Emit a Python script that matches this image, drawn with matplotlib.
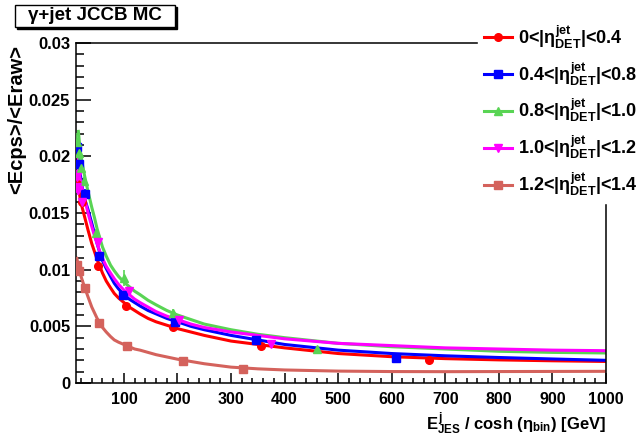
import matplotlib
matplotlib.use("Agg")
import matplotlib.pyplot as plt
from matplotlib.patches import Rectangle

plt.rcParams['font.family'] = ['Liberation Sans', 'DejaVu Sans']
plt.rcParams['font.weight'] = 'bold'
plt.rcParams['mathtext.fontset'] = 'custom'
plt.rcParams['mathtext.rm'] = 'Liberation Sans:bold'
plt.rcParams['mathtext.it'] = 'Liberation Sans:bold'
plt.rcParams['mathtext.bf'] = 'Liberation Sans:bold'

# --- data ---
labels = ['0<|$\\eta^{jet}_{DET}$|<0.4', '0.4<|$\\eta^{jet}_{DET}$|<0.8',
          '0.8<|$\\eta^{jet}_{DET}$|<1.0', '1.0<|$\\eta^{jet}_{DET}$|<1.2',
          '1.2<|$\\eta^{jet}_{DET}$|<1.4']

# points
red_x = [13, 21, 51, 104, 191, 356, 670]
red_y = [0.0176, 0.0160, 0.0103, 0.0068, 0.0049, 0.0033, 0.0020]
red_e = [0.0006, 0.0004, 0.0003, 0.0002, 0.0001, 0.0001, 0.0001]

blue_x = [12, 16, 27, 53, 99, 195, 346, 608]
blue_y = [0.0208, 0.0193, 0.0167, 0.0112, 0.0078, 0.0054, 0.0038, 0.0022]
blue_e = [0.0006, 0.0005, 0.0004, 0.0003, 0.0002, 0.0001, 0.0001, 0.0001]

green_x = [13, 16, 20, 26, 48, 101, 192, 461]
green_y = [0.0213, 0.0203, 0.0190, 0.0178, 0.0132, 0.0093, 0.0062, 0.0030]
green_e = [0.0008, 0.0006, 0.0005, 0.0004, 0.0004, 0.0007, 0.0003, 0.0001]

mag_x = [12, 13, 15, 22, 51, 110, 203, 375]
mag_y = [0.0182, 0.0173, 0.0170, 0.0160, 0.0124, 0.0081, 0.0056, 0.0034]
mag_e = [0.0006, 0.0005, 0.0004, 0.0004, 0.0003, 0.0002, 0.0001, 0.0001]

brick_x = [13, 16, 27, 54, 106, 211, 322]
brick_y = [0.0104, 0.0099, 0.0084, 0.0053, 0.0033, 0.0019, 0.00122]
brick_e = [0.0007, 0.0004, 0.0002, 0.0002, 0.0001, 0.0001, 0.0001]

# fitted curves
fx = [15, 18, 22, 27, 33, 40, 45, 50, 55, 60, 67, 75, 82, 90, 100, 110,
      120, 130, 145, 160, 180, 200, 225, 250, 300, 350, 400, 500, 600,
      700, 800, 900, 1000]
red_fx = [13] + fx
red_fy = [0.0180, 0.0173, 0.0164, 0.0155, 0.0146, 0.0135, 0.0123, 0.0116,
          0.0109, 0.0103, 0.0097, 0.0090, 0.0084, 0.0079, 0.0075, 0.0071,
          0.0067, 0.0064, 0.0061, 0.0057, 0.0054, 0.0051, 0.0048, 0.0045,
          0.0042, 0.0037, 0.0034, 0.0031, 0.0026, 0.00232, 0.00215,
          0.00204, 0.00196, 0.0019]
blue_fx = [12] + fx
blue_fy = [0.0212, 0.0198, 0.0186, 0.0173, 0.0162, 0.0153, 0.0141, 0.0132,
           0.0123, 0.0115, 0.0108, 0.0101, 0.0094, 0.0088, 0.0083, 0.0078,
           0.0074, 0.0071, 0.0068, 0.0064, 0.0061, 0.0057, 0.0054, 0.0050,
           0.0047, 0.0042, 0.0038, 0.0034, 0.0029, 0.0026, 0.0024, 0.00225,
           0.00212, 0.0020]
green_fx = fx
green_fy = [0.0222, 0.0207, 0.0194, 0.0182, 0.0169, 0.0155, 0.0146, 0.0136,
            0.0128, 0.0120, 0.0112, 0.0104, 0.0099, 0.0094, 0.0089, 0.0085,
            0.0081, 0.0078, 0.0073, 0.0069, 0.0064, 0.0060, 0.0056, 0.0052,
            0.0047, 0.0043, 0.0040, 0.0035, 0.0032, 0.0030, 0.0028, 0.0027,
            0.00265]
mag_fx = [12] + fx
mag_fy = [0.0198, 0.0190, 0.0181, 0.0172, 0.0162, 0.0150, 0.0138, 0.0130,
          0.0123, 0.0116, 0.0110, 0.0103, 0.0097, 0.0092, 0.0087, 0.0082,
          0.0078, 0.0074, 0.0071, 0.0067, 0.0063, 0.0059, 0.0056, 0.0052,
          0.0049, 0.0045, 0.0042, 0.0039, 0.0035, 0.0033, 0.0031, 0.0030,
          0.0029, 0.00285]
brick_fx = [12] + fx
brick_fy = [0.0110, 0.0104, 0.0097, 0.0091, 0.0084, 0.0076, 0.0067, 0.0062,
            0.0057, 0.0053, 0.0049, 0.0045, 0.0041, 0.0038, 0.0036, 0.0034,
            0.0032, 0.0030, 0.0029, 0.0027, 0.0025, 0.0023, 0.0021, 0.0019,
            0.0017, 0.0014, 0.00125, 0.00115, 0.00105, 0.00101, 0.00100,
            0.00101, 0.00102, 0.00103]

colors = ['#ff0000', '#0000ff', '#59d454', '#ff00ff', '#d4625c']
markers = ['o', 's', '^', 'v', 's']

series = [
    (red_x, red_y, red_e, red_fx, red_fy),
    (blue_x, blue_y, blue_e, blue_fx, blue_fy),
    (green_x, green_y, green_e, green_fx, green_fy),
    (mag_x, mag_y, mag_e, mag_fx, mag_fy),
    (brick_x, brick_y, brick_e, brick_fx, brick_fy),
]

fig = plt.figure(figsize=(6.43, 4.41), dpi=100)
ax = fig.add_axes([75.7 / 643, 1 - 383 / 441, (606 - 75.7) / 643, (383 - 43) / 441])

handles = []
for (px, py, pe, cx, cy), c, m in zip(series, colors, markers):
    ax.plot(cx, cy, color=c, lw=2.2, zorder=2, solid_joinstyle='round')
    ax.errorbar(px, py, yerr=pe, fmt=m, color=c, ms=5.5, elinewidth=1.2,
                capsize=0, zorder=3)
    h, = ax.plot([], [], color=c, lw=2.2, marker=m, ms=5.5)
    handles.append(h)

ax.set_xlim(10, 1000)
ax.set_ylim(0, 0.03)
ax.set_xticks(range(100, 1001, 100))
ax.set_xticks(range(20, 1001, 20), minor=True)
ax.set_yticks([0, 0.005, 0.01, 0.015, 0.02, 0.025, 0.03])
ax.set_yticklabels(['0', '0.005', '0.01', '0.015', '0.02', '0.025', '0.03'])
ax.set_yticks([i * 0.001 for i in range(31)], minor=True)
ax.tick_params(axis='both', which='both', direction='in',
               top=False, right=False, width=1.1)
ax.tick_params(axis='y', which='major', length=11, pad=4, labelsize=12)
ax.tick_params(axis='y', which='minor', length=5.5)
ax.tick_params(axis='x', which='major', length=7, pad=6.5, labelsize=11.5)
ax.tick_params(axis='x', which='minor', length=3.8)
for s in ax.spines.values():
    s.set_linewidth(1.1)

ax.set_xlabel('$E^{j}_{JES}$ / cosh ($\\eta_{bin}$) [GeV]', fontsize=12,
              fontweight='bold', loc='right')
ax.xaxis.set_label_coords(1.0, -0.083)
ax.set_ylabel('<Ecps>/<Eraw>', fontsize=14.5, fontweight='bold', loc='top')
ax.yaxis.set_label_coords(-0.094, 0.995)

leg = fig.legend(handles, labels, loc='upper right',
                 bbox_to_anchor=(1.0, 1 - 18 / 441), fontsize=13,
                 frameon=True, fancybox=False, handlelength=1.6,
                 handletextpad=0.3, labelspacing=0.53, borderpad=0.3,
                 borderaxespad=0.0)
leg.get_frame().set_facecolor('white')
leg.get_frame().set_edgecolor('white')
leg.get_frame().set_alpha(1.0)
for t in leg.get_texts():
    t.set_fontweight('bold')

# title box with ROOT-like shadow
W, H = 643.0, 441.0
fig.patches.append(Rectangle((17 / W, 1 - 29 / H), 160 / W, 22 / H,
                             transform=fig.transFigure, facecolor='black',
                             edgecolor='black', zorder=10))
fig.patches.append(Rectangle((15 / W, 1 - 27 / H), 160 / W, 22 / H,
                             transform=fig.transFigure, facecolor='white',
                             edgecolor='black', linewidth=1.0, zorder=11))
fig.text(95 / W, 1 - 16 / H, '\u03b3+jet JCCB MC', fontsize=13.5,
         fontweight='bold', va='center', ha='center', zorder=12)

fig.savefig('out.png', dpi=100)
